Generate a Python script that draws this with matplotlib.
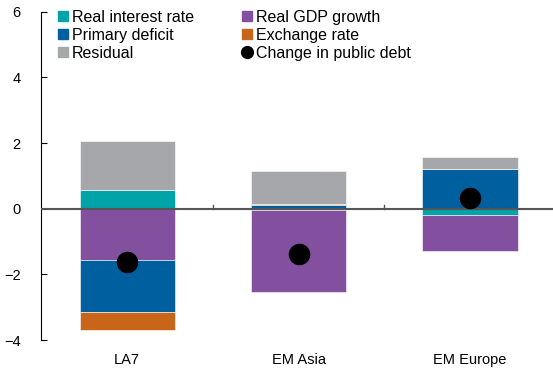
import matplotlib
matplotlib.use("Agg")
import matplotlib.pyplot as plt
import numpy as np
from matplotlib.lines import Line2D

plt.rcParams['font.family'] = ['Liberation Sans', 'DejaVu Sans']

regions = ["LA7", "EM Asia", "EM Europe"]
real_interest = [0.58, -0.03, -0.19]
real_gdp = [-1.55, -2.52, -1.09]
primary_deficit = [-1.60, 0.10, 1.21]
exchange_rate = [-0.55, 0.03, 0.0]
residual = [1.47, 1.03, 0.38]
debt_change = [-1.62, -1.38, 0.32]

series = [
    ("Real interest rate", real_interest, "#00A3A8"),
    ("Real GDP growth", real_gdp, "#83509F"),
    ("Primary deficit", primary_deficit, "#005F9E"),
    ("Exchange rate", exchange_rate, "#C8651B"),
    ("Residual", residual, "#A6A7AA"),
]

fig = plt.figure(figsize=(5.53, 3.70), dpi=100)
ax = fig.add_axes([0.075, 0.081, 0.93, 0.887])

x = np.arange(len(regions))
pos_base = np.zeros(len(regions))
neg_base = np.zeros(len(regions))
for name, vals, col in series:
    v = np.array(vals, dtype=float)
    bottoms = np.where(v >= 0, pos_base, neg_base)
    ax.bar(x, v, width=0.555, bottom=bottoms, color=col, edgecolor="white",
           linewidth=0.4, zorder=2)
    pos_base += np.where(v >= 0, v, 0)
    neg_base += np.where(v < 0, v, 0)

ax.scatter(x, debt_change, s=210, color="black", zorder=4)

ax.axhline(0, color="#555555", linewidth=1.5, zorder=3)
for b in [0.5, 1.5]:
    ax.plot([b, b], [0, 0.12], color="#555555", linewidth=1.0, zorder=3)

ax.set_xlim(-0.5, 2.5)
ax.set_ylim(-4, 6)
ax.set_yticks([-4, -2, 0, 2, 4, 6])
ax.set_xticks(x)
ax.set_xticklabels(regions, fontsize=10.5)
ax.tick_params(axis='x', length=0, pad=9)
ax.tick_params(axis='y', direction='in', length=4, labelsize=10.5, pad=15)
for s in ["top", "right", "bottom"]:
    ax.spines[s].set_visible(False)
ax.spines["left"].set_color("black")
ax.spines["left"].set_linewidth(0.8)

handles = [Line2D([], [], marker='s', linestyle='', color=c, markersize=6.5)
           for _, _, c in series]
labels = [n for n, _, _ in series]
handles.append(Line2D([], [], marker='o', linestyle='', color='black', markersize=8.5))
labels.append("Change in public debt")
order = [0, 2, 4, 1, 3, 5]
leg = ax.legend([handles[i] for i in order], [labels[i] for i in order],
                ncol=2, loc='upper left', bbox_to_anchor=(0.01, 1.035),
                frameon=False, fontsize=11.5, handletextpad=0.1,
                handlelength=0.9, labelspacing=0.18, columnspacing=2.85,
                borderaxespad=0.2)

fig.savefig("out.png", dpi=100)
